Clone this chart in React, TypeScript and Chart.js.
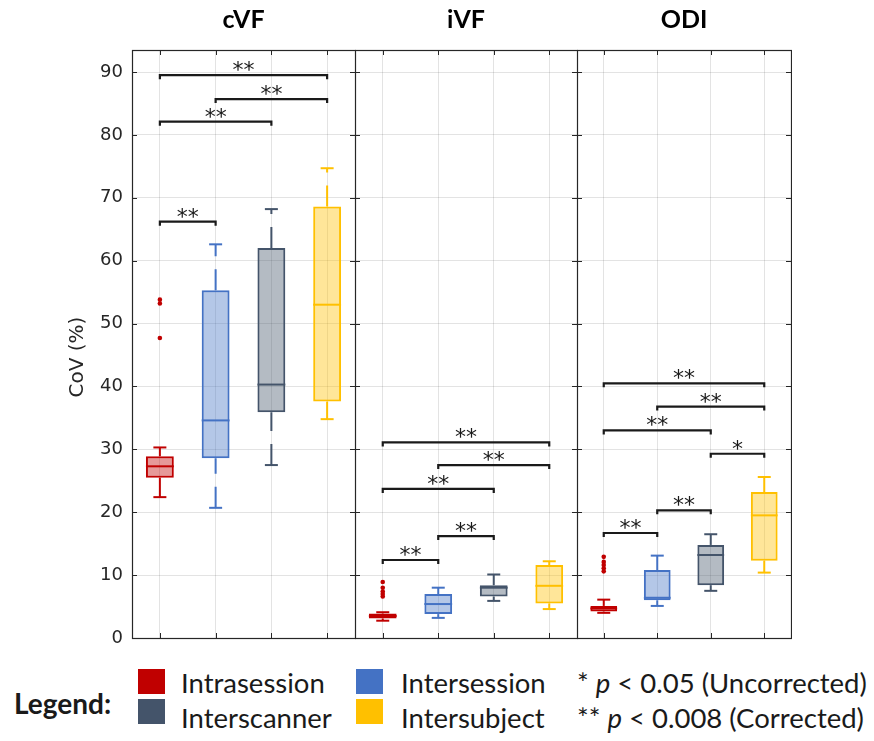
import React, { useEffect, useRef } from 'react';
import { Chart, registerables } from 'chart.js';
Chart.register(...registerables);

const groups = ['Intrasession', 'Intersession', 'Interscanner', 'Intersubject'];
const panelTitles = ['cVF', 'iVF', 'ODI'];
const yTickStep = 10;
const yMax = 93.5;

// each row: [lower whisker, q1, median, q3, upper whisker]
const cvfStats = [
  [22.4, 25.5, 27.3, 28.9, 30.3],
  [20.7, 28.6, 34.6, 55.3, 62.6],
  [27.5, 35.9, 40.3, 62.0, 68.2],
  [34.8, 37.6, 53.0, 68.6, 74.7],
];
const cvfOutliers = [[53.2, 53.8, 47.7], [], [], []];
// [group a, group b, bracket level, label]
const cvfSig = [
  [0, 1, 66.2, '**'],
  [0, 2, 82.1, '**'],
  [1, 3, 85.7, '**'],
  [0, 3, 89.5, '**'],
];

const ivfStats = [
  [2.75, 3.1, 3.5, 3.9, 4.1],
  [3.2, 3.8, 5.4, 7.0, 8.0],
  [5.9, 6.6, 8.0, 8.4, 10.1],
  [4.6, 5.5, 8.3, 11.6, 12.2],
];
const ivfOutliers = [[8.9, 8.0, 7.4, 7.0, 6.6], [], [], []];
const ivfSig = [
  [0, 1, 12.4, '**'],
  [1, 2, 16.2, '**'],
  [0, 2, 23.7, '**'],
  [1, 3, 27.5, '**'],
  [0, 3, 31.1, '**'],
];

const odiStats = [
  [4.0, 4.2, 4.7, 5.1, 6.1],
  [5.1, 6.0, 6.4, 10.8, 13.1],
  [7.5, 8.4, 13.2, 14.8, 16.5],
  [10.4, 12.3, 19.5, 23.2, 25.6],
];
const odiOutliers = [[12.9, 12.1, 11.6, 11.1, 10.6], [], [], []];
const odiSig = [
  [0, 1, 16.7, '**'],
  [1, 2, 20.3, '**'],
  [2, 3, 29.3, '*'],
  [0, 2, 33.0, '**'],
  [1, 3, 36.8, '**'],
  [0, 3, 40.5, '**'],
];

const strokeColors = ['#C00000', '#4472C4', '#44546A', '#FFC000'];
const fillColors = ['rgba(192,0,0,0.4)', 'rgba(68,114,196,0.4)', 'rgba(68,84,106,0.4)', 'rgba(255,192,0,0.4)'];
const axisColor = '#262626';
const gridColor = 'rgba(38,38,38,0.13)';

const boxPlugin = {
  id: 'boxExtras',
  beforeDatasetsDraw(chart: any, _a: any, opts: any) {
    const { ctx } = chart;
    const xs = chart.scales.x;
    const ys = chart.scales.y;
    const stats = opts.stats as number[][];
    ctx.save();
    ctx.lineWidth = 2;
    stats.forEach((s, i) => {
      const x = xs.getPixelForValue(i);
      ctx.strokeStyle = strokeColors[i];
      ctx.setLineDash([21, 13]);
      ctx.beginPath();
      ctx.moveTo(x, ys.getPixelForValue(s[0]));
      ctx.lineTo(x, ys.getPixelForValue(s[1]));
      ctx.stroke();
      ctx.beginPath();
      ctx.moveTo(x, ys.getPixelForValue(s[3]));
      ctx.lineTo(x, ys.getPixelForValue(s[4]));
      ctx.stroke();
      ctx.setLineDash([]);
      [s[0], s[4]].forEach((v) => {
        const y = ys.getPixelForValue(v);
        ctx.beginPath();
        ctx.moveTo(x - 6.5, y);
        ctx.lineTo(x + 6.5, y);
        ctx.stroke();
      });
    });
    ctx.restore();
  },
  afterDatasetsDraw(chart: any, _a: any, opts: any) {
    const { ctx, chartArea } = chart;
    const xs = chart.scales.x;
    const ys = chart.scales.y;
    const stats = opts.stats as number[][];
    const sig = opts.sig as any[];
    const meta = chart.getDatasetMeta(0);
    ctx.save();
    // medians
    ctx.lineWidth = 2;
    stats.forEach((s, i) => {
      const bar: any = meta.data[i];
      const half = bar.width / 2;
      const x = xs.getPixelForValue(i);
      const y = ys.getPixelForValue(s[2]);
      ctx.strokeStyle = strokeColors[i];
      ctx.beginPath();
      ctx.moveTo(x - half, y);
      ctx.lineTo(x + half, y);
      ctx.stroke();
    });
    // frame
    const { left, right, top, bottom } = chartArea;
    ctx.strokeStyle = axisColor;
    ctx.lineWidth = 1.2;
    ctx.strokeRect(left + 0.5, top + 0.5, right - left, bottom - top);
    // inward ticks
    ctx.lineWidth = 1;
    ys.ticks.forEach((t: any) => {
      const y = Math.round(ys.getPixelForValue(t.value)) + 0.5;
      ctx.beginPath();
      ctx.moveTo(left, y);
      ctx.lineTo(left + 5, y);
      ctx.moveTo(right, y);
      ctx.lineTo(right - 5, y);
      ctx.stroke();
    });
    groups.forEach((_g, i) => {
      const x = Math.round(xs.getPixelForValue(i)) + 0.5;
      ctx.beginPath();
      ctx.moveTo(x, top);
      ctx.lineTo(x, top + 5);
      ctx.moveTo(x, bottom);
      ctx.lineTo(x, bottom - 5);
      ctx.stroke();
    });
    // significance brackets
    ctx.strokeStyle = '#1a1a1a';
    ctx.fillStyle = '#1a1a1a';
    ctx.lineWidth = 2.2;
    ctx.font = '22px "DejaVu Sans"';
    ctx.textAlign = 'center';
    ctx.textBaseline = 'alphabetic';
    sig.forEach(([a, b, v, label]) => {
      const xa = xs.getPixelForValue(a);
      const xb = xs.getPixelForValue(b);
      const y = ys.getPixelForValue(v);
      ctx.beginPath();
      ctx.moveTo(xa, y + 4);
      ctx.lineTo(xa, y);
      ctx.lineTo(xb, y);
      ctx.lineTo(xb, y + 4);
      ctx.stroke();
      ctx.fillText(label, (xa + xb) / 2, y + 2);
    });
    // panel title
    ctx.fillStyle = '#000';
    ctx.font = 'bold 25px Lato';
    ctx.textBaseline = 'middle';
    ctx.fillText(opts.title, (left + right) / 2, 20);
    // y title
    if (opts.showY) {
      ctx.save();
      ctx.translate(78, 357);
      ctx.rotate(-Math.PI / 2);
      ctx.font = '20px "DejaVu Sans"';
      ctx.fillStyle = axisColor;
      ctx.textAlign = 'center';
      ctx.textBaseline = 'middle';
      ctx.fillText('CoV (%)', 0, 0);
      ctx.restore();
    }
    ctx.restore();
  },
};

function Panel(props: { title: string; stats: number[][]; outliers: number[][]; sig: any[]; showY: boolean; left: number; width: number; }) {
  const ref = useRef<HTMLCanvasElement>(null);
  const { title, stats, outliers, sig, showY, left, width } = props;
  useEffect(() => {
    const pts: any[] = [];
    const ptColors: string[] = [];
    outliers.forEach((arr, i) => arr.forEach((v) => { pts.push({ x: groups[i], y: v }); ptColors.push(strokeColors[i]); }));
    const chart = new Chart(ref.current as HTMLCanvasElement, {
      type: 'bar',
      data: {
        labels: groups,
        datasets: [
          {
            type: 'bar',
            data: stats.map((s) => [s[1], s[3]]) as any,
            backgroundColor: fillColors,
            borderColor: strokeColors,
            borderWidth: 2,
            borderSkipped: false,
            barPercentage: 0.5,
            categoryPercentage: 1,
            order: 2,
          } as any,
          {
            type: 'scatter',
            data: pts,
            pointBackgroundColor: ptColors,
            pointBorderColor: ptColors,
            pointRadius: 2.3,
            pointBorderWidth: 0,
            order: 1,
          } as any,
        ],
      },
      options: {
        animation: false,
        responsive: false,
        maintainAspectRatio: false,
        layout: { autoPadding: false, padding: { top: 50, bottom: 12, left: 0, right: 1 } },
        plugins: {
          legend: { display: false },
          tooltip: { enabled: false },
          boxExtras: { stats, sig, title, showY },
        } as any,
        scales: {
          x: {
            type: 'category',
            offset: true,
            grid: { offset: false, color: gridColor, drawTicks: false },
            ticks: { display: false },
            border: { display: false },
            afterFit: (s: any) => { s.height = 0; s.paddingLeft = 0; s.paddingRight = 0; },
          },
          y: {
            min: 0,
            max: yMax,
            ticks: {
              display: showY,
              stepSize: yTickStep,
              includeBounds: false,
              padding: 9,
              color: axisColor,
              font: { family: 'DejaVu Sans', size: 18 },
            },
            grid: { color: gridColor, drawTicks: false },
            border: { display: false },
            afterFit: (s: any) => { s.width = showY ? 132 : 0; s.paddingTop = 0; s.paddingBottom = 0; },
          },
        },
      } as any,
      plugins: [boxPlugin as any],
    });
    return () => chart.destroy();
  }, []);
  const cw = width + 1;
  return (
    <canvas
      ref={ref}
      width={cw}
      height={650}
      style={{ position: 'absolute', left, top: 0, width: cw, height: 650 }}
    />
  );
}

const legendFont = 'Lato, "Open Sans", sans-serif';

function Legend() {
  const txt: React.CSSProperties = { position: 'absolute', fontFamily: legendFont, fontSize: 27.5, color: '#1a1a1a', lineHeight: '32px', whiteSpace: 'nowrap' };
  const sq = (left: number, top: number, color: string): React.CSSProperties => ({ position: 'absolute', left, top, width: 27, height: 25, background: color });
  return (
    <>
      <div style={{ ...txt, left: 14, top: 687, fontWeight: 'bold', fontSize: 28 }}>Legend:</div>
      <div style={sq(138, 669, strokeColors[0])} />
      <div style={{ ...txt, left: 181, top: 667 }}>{groups[0]}</div>
      <div style={sq(138, 699, strokeColors[2])} />
      <div style={{ ...txt, left: 181, top: 702 }}>{groups[2]}</div>
      <div style={sq(356, 669, strokeColors[1])} />
      <div style={{ ...txt, left: 401, top: 667 }}>{groups[1]}</div>
      <div style={sq(356, 699, strokeColors[3])} />
      <div style={{ ...txt, left: 401, top: 702 }}>{groups[3]}</div>
      <div style={{ ...txt, left: 577, top: 667 }}>* <i>p</i> &lt; 0.05 (Uncorrected)</div>
      <div style={{ ...txt, left: 577, top: 702 }}>** <i>p</i> &lt; 0.008 (Corrected)</div>
    </>
  );
}

export default function App() {
  return (
    <div style={{ position: 'absolute', left: 0, top: 0, width: 874, height: 741, background: '#fff', overflow: 'hidden' }}>
      <Panel title={panelTitles[0]} stats={cvfStats} outliers={cvfOutliers} sig={cvfSig} showY={true} left={0} width={355} />
      <Panel title={panelTitles[1]} stats={ivfStats} outliers={ivfOutliers} sig={ivfSig} showY={false} left={355} width={222} />
      <Panel title={panelTitles[2]} stats={odiStats} outliers={odiOutliers} sig={odiSig} showY={false} left={577} width={214} />
      <Legend />
    </div>
  );
}
